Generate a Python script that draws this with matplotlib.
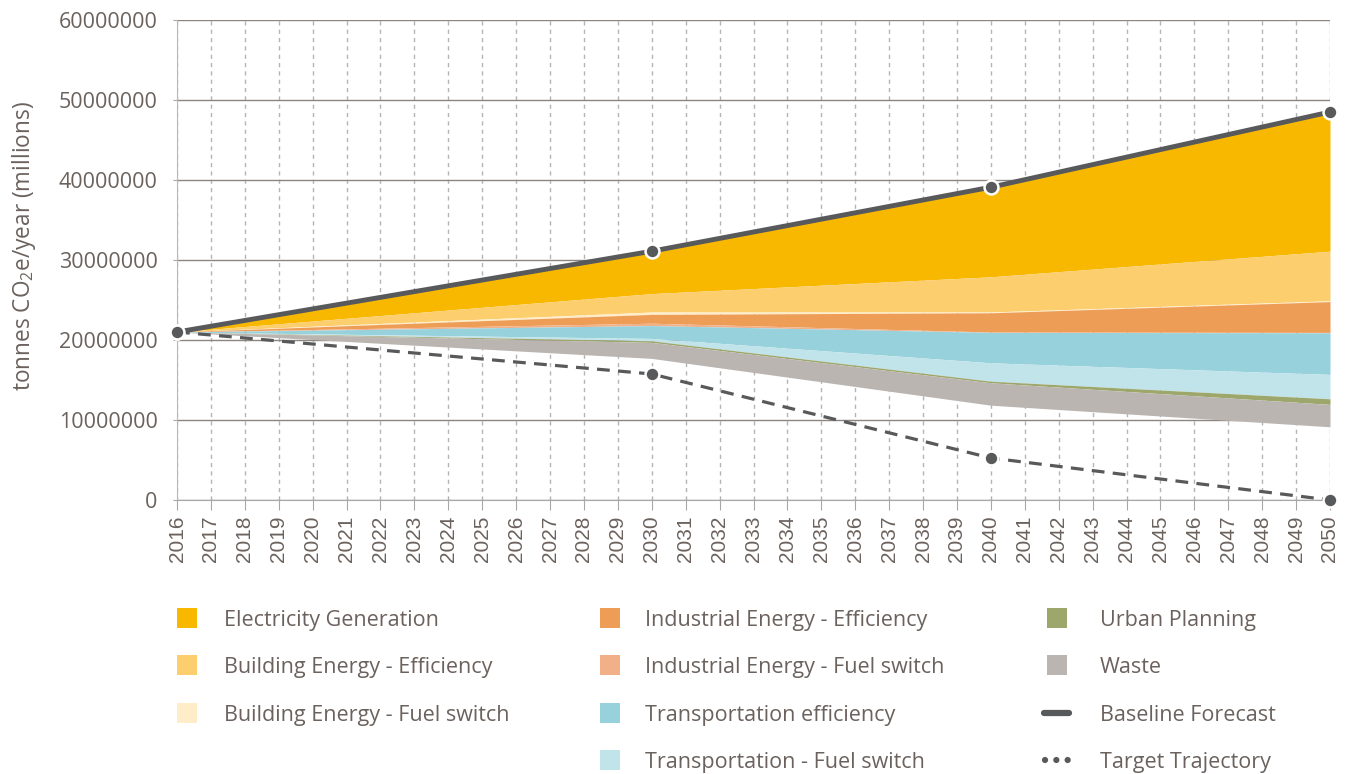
import numpy as np
import matplotlib
matplotlib.use("Agg")
import matplotlib.pyplot as plt
from matplotlib.patches import Rectangle
from matplotlib.lines import Line2D

plt.rcParams['font.family'] = ['Open Sans', 'DejaVu Sans']
plt.rcParams['mathtext.fontset'] = 'custom'
plt.rcParams['mathtext.rm'] = 'Open Sans'
plt.rcParams['mathtext.it'] = 'Open Sans:italic'

# ---- data (millions of tonnes CO2e / year) ----
key_years = [2016, 2030, 2040, 2050]
baseline = [21.0, 31.1, 39.1, 48.5]
target = [21.0, 15.75, 5.25, 0.0]

# reduction wedges, stacked downward from the baseline
electricity = [0, 5.3, 11.2, 17.4]
building_eff = [0, 2.3, 4.4, 6.2]
building_fuel = [0, 0.3, 0.1, 0.1]
industrial_eff = [0, 1.1, 2.4, 3.85]
industrial_fuel = [0, 0.3, 0.05, 0.05]
transport_eff = [0, 1.6, 3.8, 5.2]
transport_fuel = [0, 0.3, 2.3, 3.05]
urban_planning = [0, 0.2, 0.2, 0.7]
waste = [0, 2.0, 2.8, 2.8]

wedge_labels = ['Electricity Generation', 'Building Energy - Efficiency',
                'Building Energy - Fuel switch', 'Industrial Energy - Efficiency',
                'Industrial Energy - Fuel switch', 'Transportation efficiency',
                'Transportation - Fuel switch', 'Urban Planning', 'Waste']
wedges = [electricity, building_eff, building_fuel, industrial_eff,
          industrial_fuel, transport_eff, transport_fuel, urban_planning, waste]
wedge_colors = ['#f9b800', '#fdce6e', '#feedc8', '#ed9d55', '#f1b088',
                '#97d1dc', '#c1e3ea', '#9ea76b', '#bab5b1']

TEXT = '#6b625d'
DARK = '#58595b'
SCALE = 1e6

fig = plt.figure(figsize=(13.51, 7.74), dpi=100)
ax = fig.add_axes([177 / 1351, 1 - 500 / 774, (1330 - 177) / 1351, 480 / 774])

x = np.array(key_years)
top = np.array(baseline, dtype=float)
for vals, col in zip(wedges, wedge_colors):
    bottom = top - np.array(vals)
    ax.fill_between(x, bottom * SCALE, top * SCALE, color=col, lw=0, zorder=2)
    top = bottom

ax.plot(x, np.array(target) * SCALE, color=DARK, lw=2.3, ls=(0, (4, 2.6)),
        marker='o', ms=10, mfc=DARK, mec='white', mew=1.8, zorder=4, clip_on=False)
ax.plot(x, np.array(baseline) * SCALE, color=DARK, lw=3.5, solid_capstyle='butt',
        marker='o', ms=10, mfc=DARK, mec='white', mew=1.8, zorder=5, clip_on=False)

# axes styling
ax.set_xlim(2016, 2050)
ax.set_ylim(0, 60e6)
all_years = list(range(2016, 2051))
ax.set_xticks(all_years)
ax.set_xticklabels([str(y) for y in all_years], rotation=90,
                   fontfamily='Liberation Sans', fontsize=15, color=TEXT)
yt = list(range(0, 60000001, 10000000))
ax.set_yticks(yt)
ax.set_yticklabels([str(v) for v in yt], fontsize=15.5, color=TEXT)
ax.tick_params(axis='x', length=7, color='#a8a8a8', pad=4)
ax.tick_params(axis='y', length=3, color='#a8a8a8', pad=11)

ax.set_axisbelow(True)
ax.grid(axis='y', color='#8c8580', lw=1, zorder=0)
ax.grid(axis='x', color='#b4b4b4', lw=1, ls=(0, (3, 3)), zorder=0)
for s in ['top', 'right']:
    ax.spines[s].set_visible(False)
ax.spines['left'].set_color('#b8b8b8')
ax.spines['bottom'].set_color('#a8a8a8')

fig.text(24 / 1351, 1 - 246 / 774, r'tonnes CO$_\mathrm{2}$e/year (millions)',
         rotation=90, va='center', ha='center', fontsize=16.3, color=TEXT)

# ---- legend (three columns) ----
W, H = 1351, 774
legend_cols = [
    (177, [(wedge_labels[0], wedge_colors[0]), (wedge_labels[1], wedge_colors[1]),
           (wedge_labels[2], wedge_colors[2])]),
    (600, [(wedge_labels[3], wedge_colors[3]), (wedge_labels[4], wedge_colors[4]),
           (wedge_labels[5], wedge_colors[5]), (wedge_labels[6], wedge_colors[6])]),
    (1047, [(wedge_labels[7], wedge_colors[7]), (wedge_labels[8], wedge_colors[8]),
            ('Baseline Forecast', 'line'), ('Target Trajectory', 'dots')]),
]
text_x = {177: 224, 600: 645, 1047: 1100}
row_y = [618, 665, 713, 760]

for cx, entries in legend_cols:
    for (label, col), ry in zip(entries, row_y):
        fy = 1 - ry / H
        if col == 'line':
            fig.add_artist(Line2D([(cx - 3) / W, (cx + 22) / W], [fy, fy], color=DARK,
                                  lw=4.5, solid_capstyle='round'))
        elif col == 'dots':
            fig.add_artist(Line2D([(cx - 2) / W, (cx + 22) / W], [fy, fy], color=DARK,
                                  lw=4.5, ls=(0, (0.01, 1.8)), dash_capstyle='round'))
        else:
            fig.add_artist(Rectangle((cx / W, fy - 10 / H), 20 / W, 20 / H,
                                     transform=fig.transFigure, color=col, lw=0))
        fig.text(text_x[cx] / W, fy - 2.5 / H, label, va='center', ha='left',
                 fontsize=15.5, color=TEXT)

fig.savefig('out.png', dpi=100)
